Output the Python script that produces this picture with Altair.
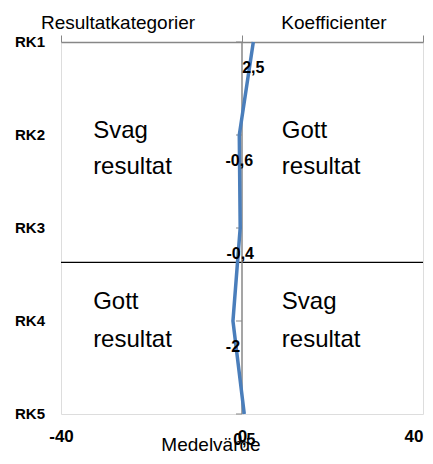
import altair as alt
import pandas as pd

# ---- data ----
categories = ["RK1", "RK2", "RK3", "RK4", "RK5"]
cat_index = [1, 2, 3, 4, 5]
values = [2.5, -0.6, -0.4, -2, 0.5]
x_ticks = [-40, 0, 40]
divider_y = [3.37]
centre_x = [0]

quad_text = ["Svag", "resultat", "Gott", "resultat", "Gott", "resultat", "Svag", "resultat"]
quad_x = [-32.9, -32.9, 8.8, 8.8, -32.9, -32.9, 8.8, 8.8]
quad_y = [2.03, 2.42, 2.03, 2.42, 3.87, 4.28, 3.87, 4.28]

titles = ["Resultatkategorier", "Koefficienter", "Medelvärde"]

COND = "Liberation Sans, Arial, sans-serif"
BOLD = "Liberation Sans, Arial, sans-serif"
GRAY = "#878787"
BLUE = "#4A7EBB"

df = pd.DataFrame({"cat": categories, "idx": cat_index, "value": values})
quad = pd.DataFrame({"t": quad_text, "x": quad_x, "y": quad_y})
div = pd.DataFrame({"y": divider_y})
centre = pd.DataFrame({"x": centre_x})
ticks_df = pd.DataFrame({"idx": cat_index, "x": [0] * len(cat_index)})

xscale = alt.Scale(domain=[-40, 40], nice=False, zero=False)
yscale = alt.Scale(domain=[1, 5], reverse=True, nice=False, zero=False)

# horizontal divider
divider = alt.Chart(div).mark_rule(color="black", strokeWidth=1.2).encode(
    y=alt.Y("y:Q", scale=yscale, axis=None)
)

# centre vertical line (value axis at 0) with small ticks pointing left
centre_line = alt.Chart(centre).mark_rule(color=GRAY, strokeWidth=1.5).encode(
    x=alt.X("x:Q", scale=xscale, axis=None)
)
centre_ticks = alt.Chart(ticks_df).mark_rule(color=GRAY, strokeWidth=1).encode(
    x=alt.X("x:Q", scale=xscale, axis=None),
    x2=alt.value(175),
    y=alt.Y("idx:Q", scale=yscale, axis=None),
)

line = alt.Chart(df).mark_line(color=BLUE, strokeWidth=3.5).encode(
    x=alt.X("value:Q", scale=xscale,
            axis=alt.Axis(orient="bottom", values=x_ticks, title=None, grid=False,
                          domain=False, ticks=False, labelExpr="toString(datum.value)",
                          labelFont=BOLD, labelFontWeight="bold", labelFontSize=17,
                          labelColor="black", labelPadding=14, labelFlush=False,
                          labelAlign=alt.condition("datum.value == 40",
                                                   alt.value("right"),
                                                   alt.value("center")))),
    y=alt.Y("idx:Q", scale=yscale, axis=None),
    order="idx:Q",
)

# category labels at the left (RK1..RK5)
cat_labels = alt.Chart(df).mark_text(font=BOLD, fontWeight="bold", fontSize=15,
                                     color="black", align="right",
                                     baseline="middle").encode(
    x=alt.value(-16),
    y=alt.Y("idx:Q", scale=yscale, axis=None),
    text="cat:N",
)

labels = alt.Chart(df).transform_calculate(
    lbl="replace(toString(datum.value), '.', ',')"
).mark_text(font=BOLD, fontWeight="bold", fontSize=16, color="black",
            baseline="middle", dy=26).encode(
    x=alt.X("value:Q", scale=xscale, axis=None),
    y=alt.Y("idx:Q", scale=yscale, axis=None),
    text="lbl:N",
)

quadrants = alt.Chart(quad).mark_text(font=COND, fontSize=24, color="black",
                                      align="left", baseline="alphabetic").encode(
    x=alt.X("x:Q", scale=xscale,
            axis=alt.Axis(orient="top", values=x_ticks, labels=False, title=None,
                          grid=False, domainColor=GRAY, domainWidth=1.5,
                          tickColor=GRAY, tickSize=7, tickWidth=1)),
    y=alt.Y("y:Q", scale=yscale, axis=None),
    text="t:N",
)

t1 = alt.Chart(pd.DataFrame({"t": [titles[0]]})).mark_text(
    font=COND, fontSize=19, color="black", align="center", baseline="alphabetic"
).encode(x=alt.value(57), y=alt.value(-13), text="t:N")
t2 = alt.Chart(pd.DataFrame({"t": [titles[1]]})).mark_text(
    font=COND, fontSize=19, color="black", align="center", baseline="alphabetic"
).encode(x=alt.value(273), y=alt.value(-13), text="t:N")
t3 = alt.Chart(pd.DataFrame({"t": [titles[2]]})).mark_text(
    font=COND, fontSize=19, color="black", align="center", baseline="alphabetic"
).encode(x=alt.value(150), y=alt.value(409), text="t:N")

chart = alt.layer(divider, centre_line, centre_ticks, line, cat_labels, labels,
                  quadrants, t1, t2, t3).properties(
    width=362, height=372,
    autosize=alt.AutoSizeParams(type="none"),
    padding={"left": 53, "top": 34, "right": 2, "bottom": 42},
).configure_view(stroke="#000000", strokeWidth=1.5).configure(background="white")

chart.save("out.html", embed_options={"renderer": "svg", "actions": False})
